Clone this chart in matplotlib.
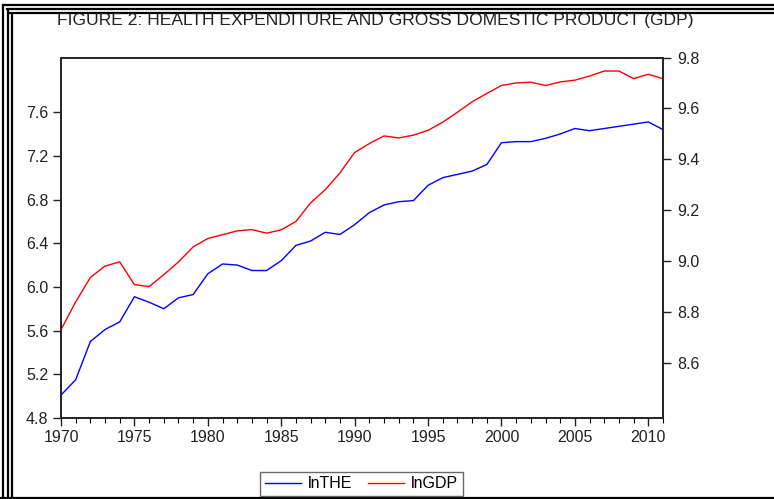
import numpy as np
import matplotlib.pyplot as plt
from matplotlib.lines import Line2D
from matplotlib.ticker import MultipleLocator
from matplotlib import font_manager

# dados
years = list(range(1970, 2012))
lnTHE = [5.01, 5.15, 5.50, 5.61, 5.68, 5.91, 5.86, 5.80, 5.90, 5.93,
         6.12, 6.21, 6.20, 6.15, 6.15, 6.24, 6.38, 6.42, 6.50, 6.48,
         6.57, 6.68, 6.75, 6.78, 6.79, 6.93, 7.00, 7.03, 7.06, 7.12,
         7.32, 7.33, 7.33, 7.36, 7.40, 7.45, 7.43, 7.45, 7.47, 7.49,
         7.51, 7.44]
lnGDP = [8.731, 8.840, 8.936, 8.981, 8.997, 8.908, 8.900, 8.947, 8.997, 9.056,
         9.089, 9.104, 9.119, 9.124, 9.110, 9.123, 9.156, 9.229, 9.281, 9.347,
         9.427, 9.462, 9.492, 9.484, 9.495, 9.514, 9.546, 9.585, 9.626, 9.659,
         9.690, 9.700, 9.703, 9.690, 9.704, 9.711, 9.727, 9.747, 9.747, 9.717,
         9.734, 9.717]
left_ticks = [4.8, 5.2, 5.6, 6.0, 6.4, 6.8, 7.2, 7.6]
right_ticks = [8.6, 8.8, 9.0, 9.2, 9.4, 9.6, 9.8]
year_ticks = [1970, 1975, 1980, 1985, 1990, 1995, 2000, 2005, 2010]

plt.rcParams['font.family'] = ['Liberation Sans', 'DejaVu Sans']

# fonte estreita para o titulo, se existir
names = {f.name for f in font_manager.fontManager.ttflist}
if 'Liberation Sans Narrow' in names:
    title_font, title_size = 'Liberation Sans Narrow', 15
else:
    title_font, title_size = 'Liberation Sans', 12.6

W, H = 774, 499
fig = plt.figure(figsize=(W / 100, H / 100), dpi=100)
ax = fig.add_axes([61 / W, 1 - 418 / H, (663 - 61) / W, (418 - 57.5) / H])
ax2 = ax.twinx()

ax.plot(years, lnTHE, color='#0000ff', lw=1.0)
ax2.plot(years, lnGDP, color='#ff0000', lw=1.0)

ax.set_xlim(1970, 2011)
ax.set_ylim(4.8, 8.1)
ax2.set_ylim(8.384, 9.8)
ax.set_xticks(year_ticks)
ax.xaxis.set_minor_locator(MultipleLocator(1))
ax.set_yticks(left_ticks)
ax.set_yticklabels([f'{v:.1f}' for v in left_ticks])
ax2.set_yticks(right_ticks)
ax2.set_yticklabels([f'{v:.1f}' for v in right_ticks])

for a in (ax, ax2):
    for s in a.spines.values():
        s.set_linewidth(1.2)
        s.set_color('#222222')
    a.tick_params(labelsize=11.5, colors='#222222', length=6, width=1, direction='out')
ax.tick_params(axis='x', which='major', length=6, pad=3)
ax.tick_params(axis='x', which='minor', length=3.5, width=0.8)
ax.tick_params(axis='y', pad=3)
ax2.tick_params(axis='y', pad=4)

fig.text(57 / W, 1 - 20 / H, 'FIGURE 2: HEALTH EXPENDITURE AND GROSS DOMESTIC PRODUCT (GDP)',
         fontsize=title_size, family=[title_font, 'DejaVu Sans'],
         va='center', ha='left', color='#222222')

handles = [Line2D([], [], color='#0000ff', lw=1.0), Line2D([], [], color='#ff0000', lw=1.0)]
leg = fig.legend(handles, ['lnTHE', 'lnGDP'], loc='center', ncol=2,
                 bbox_to_anchor=(361.5 / W, 1 - 484 / H), fontsize=11.5,
                 fancybox=False, frameon=True, edgecolor='#444444',
                 handlelength=2.25, handletextpad=0.45, columnspacing=1.0,
                 borderpad=0.3, borderaxespad=0)
leg.get_frame().set_linewidth(1.0)

# moldura da pagina
for xp in (2.5, 7.5, 11.5):
    fig.add_artist(Line2D([xp / W, xp / W], [0, 1 - (xp + 2) / H], color='black', lw=1.6))
for yp in (5, 9, 12.5):
    fig.add_artist(Line2D([(yp - 2.5) / W, 1], [1 - yp / H, 1 - yp / H], color='black', lw=1.6))
fig.add_artist(Line2D([0, 1], [1.5 / H, 1.5 / H], color='black', lw=1.6))

fig.savefig('out.png', dpi=100)
